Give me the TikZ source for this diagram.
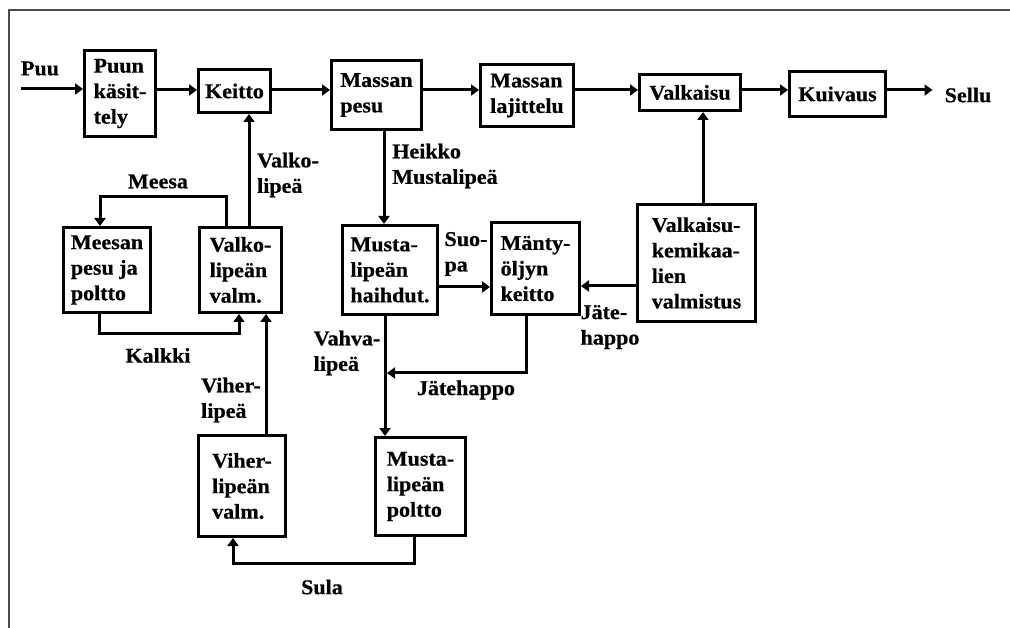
\documentclass[tikz,border=0pt]{standalone}
\usepackage{fontspec}
\setmainfont[FakeStretch=1.05,FakeBold=0.6]{Liberation Serif}
\usetikzlibrary{arrows.meta,calc}
\begin{document}
\begin{tikzpicture}[x=1pt,y=-1pt,
  every node/.style={font=\fontsize{21}{25.5}\selectfont\bfseries},
  procbox/.style={draw, line width=3pt, align=left, inner sep=0pt},
  lbl/.style={align=left, inner sep=0pt},
  arr/.style={line width=3pt, -{Triangle[length=8pt,width=11pt]}},
  conn/.style={line width=3pt}]
\useasboundingbox[fill=white] (0,0) rectangle (1010,628);
\draw[line width=1.5pt, black!70] (9,628) -- (9,10) -- (1010,10);

% main row
\node[procbox, minimum width=71, minimum height=86] (puun) at (120,93.5) {Puun\\käsit-\\tely};
\node[procbox, minimum width=72, minimum height=43] (keitto) at (234.5,91) {Keitto};
\node[procbox, minimum width=90, minimum height=69] (mpesu) at (376.5,95) {Massan\\pesu};
\node[procbox, minimum width=93, minimum height=62] (mlaj) at (527,95.5) {Massan\\lajittelu};
\node[procbox, minimum width=101, minimum height=36] (valk) at (690,92.5) {Valkaisu};
\node[procbox, minimum width=96, minimum height=45] (kuiv) at (837.5,94) {Kuivaus};
\node[lbl] (puu) at (40,68.5) {Puu};
\node[lbl] (sellu) at (968,95) {Sellu};
\coordinate (row) at (0,90);
\coordinate (puuin) at (21,89);

% second row
\node[procbox, minimum width=87, minimum height=85] (meesan) at (107,270) {Meesan\\pesu ja\\poltto};
\node[procbox, minimum width=82, minimum height=85] (valko) at (240.5,270) {Valko-\\lipeän\\valm.};
\node[procbox, minimum width=95, minimum height=89] (haihd) at (390,270) {Musta-\\lipeän\\haihdut.};
\node[procbox, minimum width=88, minimum height=92] (manty) at (535.5,268.5) {Mänty-\\öljyn\\keitto};
\node[procbox, minimum width=118, minimum height=117] (vkem) at (696.5,263) {Valkaisu-\\kemikaa-\\lien\\valmistus};

% bottom row
\node[procbox, minimum width=87, minimum height=101] (viher) at (242,486) {Viher-\\lipeän\\valm.};
\node[procbox, minimum width=90, minimum height=98] (poltto) at (420.5,486.5) {Musta-\\lipeän\\poltto};

% labels
\node[lbl] (lvalko) at (288,175) {Valko-\\lipeä};
\node[lbl] (lmeesa) at (158,181.5) {Meesa};
\node[lbl] (lkalkki) at (158,355.5) {Kalkki};
\node[lbl] (lviher) at (231,400) {Viher-\\lipeä};
\node[lbl] (lheikko) at (445,166) {Heikko\\Mustalipeä};
\node[lbl] (lsuopa) at (466,254) {Suo-\\pa};
\node[lbl] (ljate1) at (610,327) {Jäte-\\happo};
\node[lbl] (ljate2) at (466,390) {Jätehappo};
\node[lbl] (lvahva) at (347,353) {Vahva-\\lipeä};
\node[lbl] (lsula) at (322,587) {Sula};

% main row connectors
\draw[arr] (puuin) -- (puun.west |- puuin);
\draw[arr] (puun.east |- row) -- (keitto.west |- row);
\draw[arr] (keitto.east |- row) -- (mpesu.west |- row);
\draw[arr] (mpesu.east |- row) -- (mlaj.west |- row);
\draw[arr] (mlaj.east |- row) -- (valk.west |- row);
\draw[arr] (valk.east |- row) -- (kuiv.west |- row);
\draw[arr] (kuiv.east |- row) -- ([xshift=-12pt]sellu.west |- row);

% lime cycle
\draw[arr] ([xshift=8.5pt]valko.north) -- ([xshift=8.5pt]valko.north |- keitto.south);
\draw[arr] ([xshift=-14.5pt]valko.north) -- ++(0,-29) -| ([xshift=-7pt]meesan.north);
\draw[arr] ([xshift=-8pt]meesan.south) -- ++(0,20) -| ([xshift=-1.5pt]valko.south);
\draw[arr] ([xshift=24pt]viher.north) -- ([xshift=24pt]viher.north |- valko.south);

% black liquor
\draw[arr] ([xshift=-6pt]haihd.north |- mpesu.south) -- ([xshift=-6pt]haihd.north);
\draw[arr] ([xshift=-5pt]haihd.south) -- ([xshift=-5pt]haihd.south |- poltto.north);
\coordinate (vj) at (387,373);
\draw[arr] ([xshift=-9.5pt]manty.south) |- (vj);
\draw[arr] ([yshift=-17pt]haihd.east) -- ([yshift=-17pt]haihd.east -| manty.west);
\draw[arr] ([yshift=-23pt]vkem.west) -- ([yshift=-23pt]vkem.west -| manty.east);
\draw[arr] ([xshift=6.5pt]vkem.north) -- ([xshift=6.5pt]vkem.north |- valk.south);
\draw[arr] ([xshift=-6.5pt]poltto.south) -- ++(0,26) -| ([xshift=-9pt]viher.south);
\end{tikzpicture}
\end{document}
